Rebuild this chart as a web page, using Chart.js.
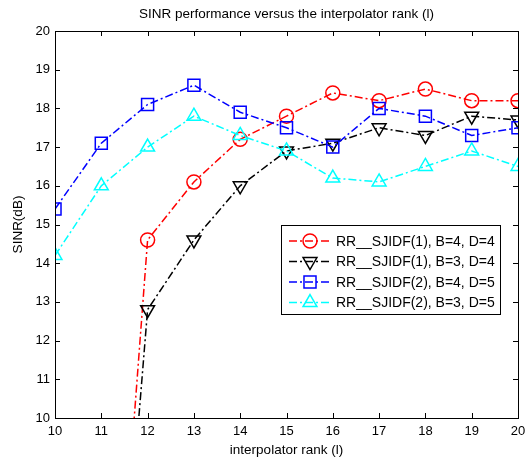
<!DOCTYPE html>
<html>
<head>
<meta charset="utf-8">
<script src="https://cdn.jsdelivr.net/npm/chart.js@4.4.0/dist/chart.umd.min.js"></script>
<style>
  html, body { margin: 0; padding: 0; background: #fff; }
  #wrap { width: 528px; height: 461px; }
</style>
</head>
<body>
<div id="wrap"><canvas id="sinrCanvas" width="528" height="461"></canvas></div>
<script>
const ranks = [10, 11, 12, 13, 14, 15, 16, 17, 18, 19, 20];
const sjidf1B4D4 = [null, -1.3, 14.6, 16.1, 17.2, 17.8, 18.4, 18.2, 18.5, 18.2, 18.2];
const sjidf1B3D4 = [null, -1.9, 12.8, 14.6, 16.0, 16.9, 17.1, 17.5, 17.3, 17.8, 17.7];
const sjidf2B4D5 = [15.4, 17.1, 18.1, 18.6, 17.9, 17.5, 17.0, 18.0, 17.8, 17.3, 17.5];
const sjidf2B3D5 = [14.2, 16.0, 17.0, 17.8, 17.3, 16.9, 16.2, 16.1, 16.5, 16.9, 16.5];
const seriesNames = [
  'RR__SJIDF(1), B=4, D=4',
  'RR__SJIDF(1), B=3, D=4',
  'RR__SJIDF(2), B=4, D=5',
  'RR__SJIDF(2), B=3, D=5'
];
const yTicks = [10, 11, 12, 13, 14, 15, 16, 17, 18, 19, 20];

const FONT = '"Liberation Sans", Arial, sans-serif';
const dashDot = [8, 3, 2, 3];

function toPoints(values) {
  return ranks.map((r, i) => ({ x: r, y: values[i] }));
}

function makeSet(label, values, color, style, radius, rotation, order) {
  return {
    label,
    data: toPoints(values),
    borderColor: color,
    backgroundColor: 'rgba(0,0,0,0)',
    pointBorderColor: color,
    pointBackgroundColor: 'rgba(0,0,0,0)',
    borderWidth: 1.5,
    pointBorderWidth: 1.5,
    borderDash: dashDot,
    pointStyle: style,
    pointRadius: radius,
    pointRotation: rotation,
    pointHoverRadius: radius,
    spanGaps: true,
    tension: 0,
    order
  };
}

const datasets = [
  makeSet(seriesNames[0], sjidf1B4D4, '#ff0000', 'circle', 7, 0, 4),
  makeSet(seriesNames[1], sjidf1B3D4, '#000000', 'triangle', 8, 180, 3),
  makeSet(seriesNames[2], sjidf2B4D5, '#0000ff', 'rect', 8.5, 0, 2),
  makeSet(seriesNames[3], sjidf2B3D5, '#00ffff', 'triangle', 8, 0, 1)
];

function drawMarker(ctx, style, x, y, r, rot) {
  ctx.beginPath();
  if (style === 'circle') {
    ctx.arc(x, y, r, 0, Math.PI * 2);
  } else if (style === 'rect') {
    const h = r * Math.SQRT1_2;
    ctx.rect(x - h, y - h, 2 * h, 2 * h);
  } else {
    let a = rot * Math.PI / 180;
    for (let k = 0; k < 3; k++) {
      const px = x + Math.sin(a) * r, py = y - Math.cos(a) * r;
      if (k === 0) ctx.moveTo(px, py); else ctx.lineTo(px, py);
      a += 2 * Math.PI / 3;
    }
    ctx.closePath();
  }
  ctx.stroke();
}

const decorations = {
  id: 'decorations',
  afterDatasetsDraw(chart) {
    const { ctx, chartArea: a, scales } = chart;
    ctx.save();
    // box
    ctx.strokeStyle = '#000';
    ctx.lineWidth = 1;
    ctx.setLineDash([]);
    ctx.strokeRect(Math.round(a.left) + 0.5, Math.round(a.top) + 0.5,
      Math.round(a.right - a.left), Math.round(a.bottom - a.top));
    // inward ticks
    const tl = 5;
    ctx.beginPath();
    ranks.forEach(v => {
      const px = Math.round(scales.x.getPixelForValue(v)) + 0.5;
      ctx.moveTo(px, a.bottom); ctx.lineTo(px, a.bottom - tl);
      ctx.moveTo(px, a.top); ctx.lineTo(px, a.top + tl);
    });
    yTicks.forEach(v => {
      const py = Math.round(scales.y.getPixelForValue(v)) + 0.5;
      ctx.moveTo(a.left, py); ctx.lineTo(a.left + tl, py);
      ctx.moveTo(a.right, py); ctx.lineTo(a.right - tl, py);
    });
    ctx.stroke();

    // titles
    ctx.fillStyle = '#000';
    ctx.font = '13.5px ' + FONT;
    ctx.textAlign = 'center';
    ctx.textBaseline = 'middle';
    ctx.fillText('SINR performance versus the interpolator rank (l)', (a.left + a.right) / 2, 14);
    ctx.fillText('interpolator rank (l)', (a.left + a.right) / 2, 450);
    ctx.save();
    ctx.translate(18, (a.top + a.bottom) / 2);
    ctx.rotate(-Math.PI / 2);
    ctx.fillText('SINR(dB)', 0, 0);
    ctx.restore();

    // legend
    const lx = 281, ly = 225, lw = 219, lh = 89;
    ctx.fillStyle = '#fff';
    ctx.fillRect(lx, ly, lw, lh);
    ctx.strokeStyle = '#000';
    ctx.lineWidth = 1;
    ctx.strokeRect(lx + 0.5, ly + 0.5, lw, lh);
    ctx.font = '14px ' + FONT;
    ctx.textAlign = 'left';
    datasets.forEach((ds, i) => {
      const y = 241 + i * 20.5;
      ctx.strokeStyle = ds.borderColor;
      ctx.lineWidth = 1.5;
      ctx.setLineDash(dashDot);
      ctx.beginPath();
      ctx.moveTo(289, y); ctx.lineTo(332, y);
      ctx.stroke();
      ctx.setLineDash([]);
      drawMarker(ctx, ds.pointStyle, 310, y, ds.pointRadius, ds.pointRotation);
      ctx.fillStyle = '#000';
      ctx.fillText(ds.label, 336, y + 1);
    });
    ctx.restore();
  }
};

new Chart(document.getElementById('sinrCanvas'), {
  type: 'line',
  data: { datasets },
  plugins: [decorations],
  options: {
    responsive: false,
    animation: false,
    events: [],
    layout: { padding: { top: 31, right: 8, left: 0, bottom: 0 } },
    plugins: { legend: { display: false }, title: { display: false }, tooltip: { enabled: false } },
    scales: {
      x: {
        type: 'linear',
        min: 10,
        max: 20,
        afterFit: s => { s.height = 43; s.paddingLeft = 0; s.paddingRight = 0; },
        grid: { display: false, drawTicks: false },
        border: { display: false },
        ticks: { stepSize: 1, padding: 6, color: '#000', font: { family: FONT, size: 13 } }
      },
      y: {
        min: 10,
        max: 20,
        afterFit: s => { s.width = 55; s.paddingTop = 0; s.paddingBottom = 0; },
        grid: { display: false, drawTicks: false },
        border: { display: false },
        ticks: { stepSize: 1, padding: 5, color: '#000', font: { family: FONT, size: 13 } }
      }
    }
  }
});
</script>
</body>
</html>
